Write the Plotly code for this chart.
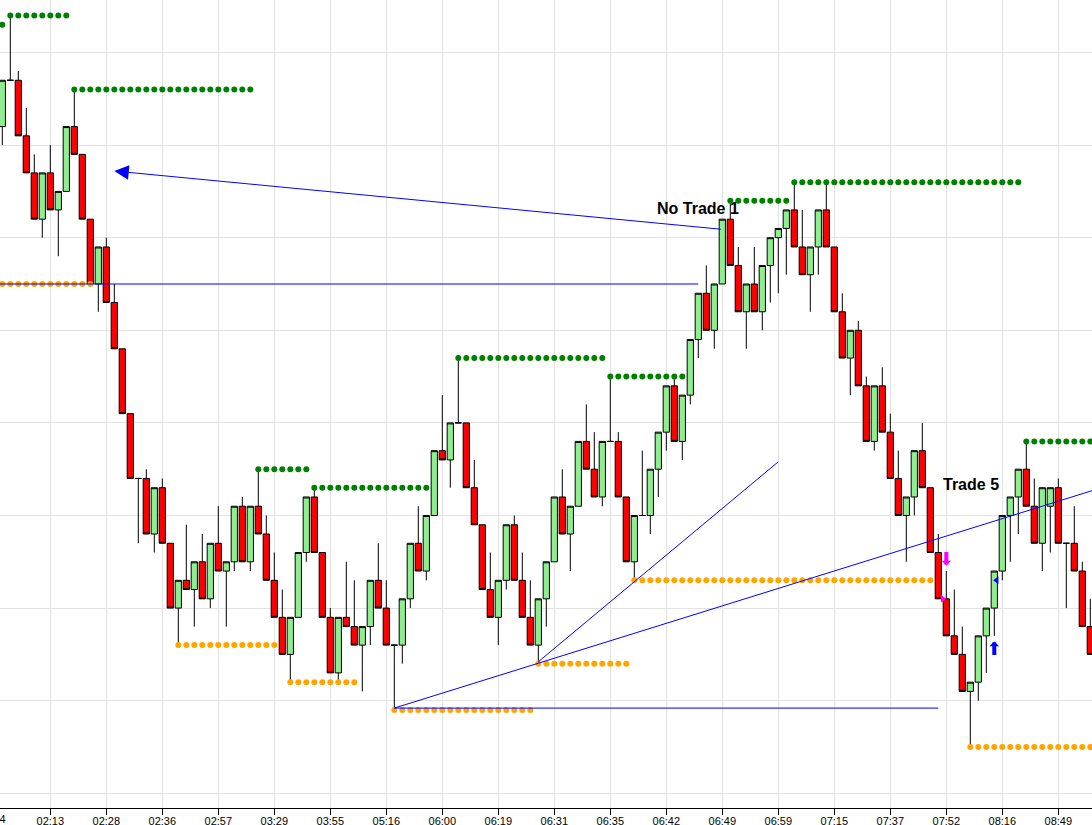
import plotly.graph_objects as go

# ------------------------------------------------------------
# candle data (one slot per bar, price in points)
# ------------------------------------------------------------
bar_idx = list(range(137))

opens = [
    1172, 1177, 1177, 1171, 1167, 1162, 1167, 1163, 1165, 1172,
    1169, 1162, 1155, 1159, 1153, 1148, 1141, 1134, 1134, 1128,
    1133, 1127, 1120, 1123, 1122, 1125, 1121, 1127, 1124, 1125,
    1131, 1125, 1131, 1128, 1123, 1119, 1115, 1119, 1126, 1132,
    1126, 1119, 1113, 1119, 1118, 1116, 1118, 1123, 1120, 1116,
    1116, 1121, 1127, 1124, 1130, 1137, 1136, 1140, 1140, 1133,
    1129, 1122, 1119, 1123, 1129, 1123, 1119, 1116, 1121, 1125,
    1132, 1128, 1131, 1138, 1135, 1132, 1138, 1138, 1132, 1125,
    1130, 1130, 1135, 1139, 1144, 1138, 1143, 1149, 1154, 1150,
    1155, 1162, 1157, 1152, 1155, 1152, 1157, 1160, 1161, 1163,
    1159, 1156, 1159, 1163, 1159, 1152, 1147, 1150, 1144, 1138,
    1144, 1139, 1134, 1130, 1132, 1137, 1133, 1126, 1121, 1117,
    1115, 1111, 1112, 1117, 1120, 1124, 1130, 1132, 1135, 1131,
    1127, 1131, 1133, 1127, 1127, 1124, 1118,
]
highs = [
    1177, 1184, 1178, 1174, 1169, 1167, 1170, 1165, 1172, 1176,
    1169, 1162, 1159, 1160, 1155, 1148, 1141, 1134, 1135, 1133,
    1134, 1127, 1123, 1129, 1125, 1128, 1127, 1131, 1125, 1131,
    1132, 1131, 1135, 1130, 1126, 1122, 1119, 1126, 1132, 1133,
    1126, 1120, 1119, 1125, 1123, 1118, 1123, 1127, 1123, 1116,
    1121, 1127, 1131, 1130, 1137, 1143, 1140, 1147, 1140, 1136,
    1129, 1126, 1123, 1129, 1130, 1126, 1123, 1121, 1125, 1132,
    1135, 1131, 1138, 1142, 1139, 1138, 1145, 1139, 1132, 1130,
    1137, 1135, 1139, 1144, 1145, 1143, 1149, 1154, 1157, 1155,
    1162, 1164, 1159, 1155, 1159, 1157, 1160, 1161, 1163, 1166,
    1163, 1159, 1163, 1166, 1159, 1154, 1150, 1151, 1145, 1144,
    1146, 1141, 1137, 1132, 1137, 1140, 1133, 1128, 1124, 1122,
    1118, 1112, 1117, 1120, 1124, 1130, 1132, 1135, 1138, 1134,
    1133, 1133, 1134, 1127, 1131, 1125, 1121,
]
lows = [
    1170, 1177, 1171, 1167, 1162, 1160, 1163, 1158, 1165, 1169,
    1162, 1155, 1152, 1153, 1148, 1141, 1134, 1127, 1128, 1126,
    1127, 1120, 1116, 1122, 1118, 1121, 1120, 1124, 1118, 1124,
    1125, 1124, 1128, 1123, 1119, 1115, 1112, 1119, 1125, 1126,
    1119, 1113, 1112, 1118, 1116, 1111, 1116, 1120, 1116, 1109,
    1114, 1120, 1124, 1123, 1130, 1136, 1133, 1140, 1133, 1129,
    1122, 1119, 1116, 1122, 1123, 1119, 1116, 1114, 1118, 1125,
    1128, 1124, 1131, 1135, 1132, 1131, 1138, 1132, 1125, 1123,
    1130, 1128, 1132, 1137, 1138, 1136, 1142, 1147, 1150, 1148,
    1155, 1157, 1152, 1148, 1152, 1150, 1153, 1154, 1156, 1159,
    1156, 1152, 1156, 1159, 1152, 1147, 1143, 1144, 1138, 1137,
    1139, 1134, 1130, 1125, 1130, 1133, 1126, 1121, 1117, 1115,
    1111, 1105, 1110, 1113, 1117, 1123, 1125, 1128, 1131, 1127,
    1124, 1126, 1127, 1120, 1124, 1118, 1115,
]
closes = [
    1177, 1177, 1171, 1167, 1162, 1167, 1163, 1165, 1172, 1169,
    1162, 1155, 1159, 1153, 1148, 1141, 1134, 1134, 1128, 1133,
    1127, 1120, 1123, 1122, 1125, 1121, 1127, 1124, 1125, 1131,
    1125, 1131, 1128, 1123, 1119, 1115, 1119, 1126, 1132, 1126,
    1119, 1113, 1119, 1118, 1116, 1118, 1123, 1120, 1116, 1116,
    1121, 1127, 1124, 1130, 1137, 1136, 1140, 1140, 1133, 1129,
    1122, 1119, 1123, 1129, 1123, 1119, 1116, 1121, 1125, 1132,
    1128, 1131, 1138, 1135, 1132, 1138, 1138, 1132, 1125, 1130,
    1130, 1135, 1139, 1144, 1138, 1143, 1149, 1154, 1150, 1155,
    1162, 1157, 1152, 1155, 1152, 1157, 1160, 1161, 1163, 1159,
    1156, 1159, 1163, 1159, 1152, 1147, 1150, 1144, 1138, 1144,
    1139, 1134, 1130, 1132, 1137, 1133, 1126, 1121, 1117, 1115,
    1111, 1112, 1117, 1120, 1124, 1130, 1132, 1135, 1131, 1127,
    1133, 1133, 1127, 1127, 1124, 1118, 1115,
]

# time labels, one every 7 bars (first one sits just off the left edge)
tick_idx = list(range(-1, 137, 7))
tick_labels = ["01:54", "02:13", "02:28", "02:36", "02:57", "03:29", "03:55",
               "05:16", "06:00", "06:19", "06:31", "06:35", "06:42", "06:49",
               "06:59", "07:15", "07:37", "07:52", "08:16", "08:49"]

# resistance (green) / support (orange) dot levels: first bar, last bar, price
res_start = [0, 1, 9, 32, 39, 57, 76, 91, 99, 128]
res_end = [0, 8, 31, 38, 53, 75, 85, 98, 127, 136]
res_level = [1183, 1184, 1176, 1135, 1133, 1147, 1145, 1164, 1166, 1138]

sup_start = [0, 22, 36, 49, 67, 79, 121]
sup_end = [11, 34, 44, 66, 78, 116, 136]
sup_level = [1155, 1116, 1112, 1109, 1114, 1123, 1105]

# hand drawn blue lines: (bar, price) -> (bar, price)
line_x0 = [-2, 49, 49, 67]
line_y0 = [1155.0, 1109.2, 1109.2, 1114.2]
line_x1 = [87, 117, 140, 97]
line_y1 = [1155.0, 1109.2, 1133.7, 1135.8]

# blue arrow line, tail -> head
arrow_tail = (90, 1160.9)
arrow_head = (14, 1167.2)

# trade labels
label_text = ["No Trade 1", "Trade 5"]
label_x = [86.9, 121.05]
label_y = [1163.1, 1133.3]

# entry / exit signals
sig_down = (118, 1124.6)      # magenta block arrow tip
sig_up = (124, 1116.4)        # blue block arrow tip
tri_right = (117.55, 1121.0)  # magenta marker
tri_left = (124.3, 1123.0)    # blue marker

X_RANGE = [-0.2875, 136.2125]


def expand_levels(starts, ends, levels):
    xs, ys = [], []
    for s, e, lv in zip(starts, ends, levels):
        for k in range(s, e + 1):
            xs.append(k)
            ys.append(lv)
    return xs, ys


fig = go.Figure()

rx, ry = expand_levels(res_start, res_end, res_level)
sx, sy = expand_levels(sup_start, sup_end, sup_level)
fig.add_trace(go.Scatter(x=rx, y=ry, mode="markers",
                         marker=dict(color="#008000", size=6, line=dict(width=0))))
fig.add_trace(go.Scatter(x=sx, y=sy, mode="markers",
                         marker=dict(color="#FFA500", size=6, line=dict(width=0))))

fig.add_trace(go.Candlestick(
    x=bar_idx, open=opens, high=highs, low=lows, close=closes,
    increasing=dict(line=dict(color="black", width=1), fillcolor="#90EE90"),
    decreasing=dict(line=dict(color="black", width=1), fillcolor="#FF0000"),
    whiskerwidth=0,
))

for x0, y0, x1, y1 in zip(line_x0, line_y0, line_x1, line_y1):
    fig.add_trace(go.Scatter(x=[x0, x1], y=[y0, y1], mode="lines",
                             line=dict(color="#0000FF", width=1)))

fig.add_trace(go.Scatter(x=[tri_right[0]], y=[tri_right[1]], mode="markers",
                         marker=dict(symbol="triangle-right", color="#FF00FF", size=7)))
fig.add_trace(go.Scatter(x=[tri_left[0]], y=[tri_left[1]], mode="markers",
                         marker=dict(symbol="triangle-left", color="#0000FF", size=7)))

# long arrow pointing back
fig.add_annotation(x=arrow_head[0], y=arrow_head[1], ax=arrow_tail[0], ay=arrow_tail[1],
                   xref="x", yref="y", axref="x", ayref="y", text="",
                   showarrow=True, arrowhead=2, arrowsize=2.9, arrowwidth=1,
                   arrowcolor="#0000FF")

# block arrows for the signals
fig.add_annotation(x=sig_down[0], y=sig_down[1], ax=0, ay=-15, text="",
                   showarrow=True, arrowhead=1, arrowsize=0.4, arrowwidth=4,
                   arrowcolor="#FF00FF")
fig.add_annotation(x=sig_up[0], y=sig_up[1], ax=0, ay=15, text="",
                   showarrow=True, arrowhead=1, arrowsize=0.4, arrowwidth=4,
                   arrowcolor="#0000FF")

for t, x, y in zip(label_text, label_x, label_y):
    fig.add_annotation(x=x, y=y, text="<b>" + t + "</b>", showarrow=False,
                       font=dict(family="Arial, Liberation Sans", size=16, color="black"))

# first time label is cut by the left edge, so place it by hand in paper space
frac = (tick_idx[0] - X_RANGE[0]) / (X_RANGE[1] - X_RANGE[0])
fig.add_annotation(x=frac, y=0, xref="paper", yref="paper", xanchor="center",
                   yanchor="top", yshift=-4, xshift=-2, text=tick_labels[0],
                   showarrow=False, borderpad=0,
                   font=dict(family="Arial, Liberation Sans", size=11, color="black"))

fig.update_layout(
    width=1092, height=825,
    margin=dict(l=0, r=0, t=0, b=17, autoexpand=False),
    paper_bgcolor="white", plot_bgcolor="white",
    showlegend=False, hovermode=False,
    boxgap=0.22, boxgroupgap=0,
    font=dict(family="Arial, Liberation Sans", size=11, color="black"),
)
fig.update_xaxes(
    range=X_RANGE, tickmode="array", tickvals=tick_idx, ticktext=tick_labels,
    showgrid=True, gridcolor="#E2E2E2", gridwidth=1, zeroline=False,
    showline=True, linecolor="black", linewidth=1,
    ticks="outside", ticklen=6, tickcolor="black", automargin=False,
    ticklabelstandoff=-3,
    rangeslider=dict(visible=False),
)
fig.update_yaxes(
    range=[1098.41, 1185.67], tick0=1100, dtick=10, showticklabels=False,
    showgrid=True, gridcolor="#E2E2E2", gridwidth=1, zeroline=False, ticks="",
    automargin=False,
)

fig.write_html("out.html", config={"displayModeBar": False},
               post_script="document.body.style.margin='0px';document.body.style.overflow='hidden';")
